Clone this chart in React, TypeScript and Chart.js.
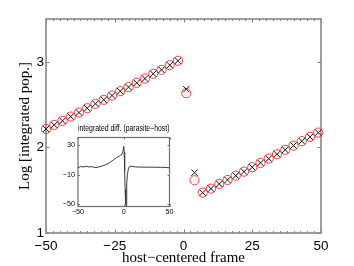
import React, { useEffect, useRef } from "react";
import { Chart, registerables } from "chart.js";

Chart.register(...registerables);

// ---- main chart data ----
const frameX = [
  -50, -47, -44, -41, -38, -35, -32, -29, -26, -23, -20, -17, -14, -11, -8, -5, -2,
  1, 4,
  7, 10, 13, 16, 19, 22, 25, 28, 31, 34, 37, 40, 43, 46, 49,
];
const circleY = [
  2.216, 2.263, 2.31, 2.36, 2.407, 2.458, 2.509, 2.556, 2.606, 2.657, 2.704, 2.754, 2.804, 2.86, 2.906, 2.961, 3.012,
  2.634, 1.616,
  1.471, 1.518, 1.573, 1.62, 1.67, 1.717, 1.768, 1.819, 1.869, 1.92, 1.971, 2.021, 2.073, 2.123, 2.173,
];
const crossY = [
  2.216, 2.263, 2.31, 2.36, 2.407, 2.458, 2.509, 2.556, 2.606, 2.657, 2.704, 2.754, 2.804, 2.86, 2.906, 2.961, 3.012,
  2.681, 1.705,
  1.471, 1.518, 1.573, 1.62, 1.67, 1.717, 1.768, 1.819, 1.869, 1.92, 1.971, 2.021, 2.073, 2.123, 2.173,
];
const mainXTicks = [-50, -25, 0, 25, 50];
const mainYTicks = [1, 2, 3];
const mainXMinorStep = 2.5;

// ---- inset data ----
const insetX = [
  -50, -47, -44, -41, -38, -35, -32, -29, -26, -23, -20, -17, -14, -11, -8, -6, -4, -2, -1, 0,
  0.5, 1, 1.5, 2, 2.5, 3, 3.5, 4, 5, 6, 7, 8, 10, 13, 16, 20, 25, 30, 35, 40, 45, 50,
];
const insetY = [
  -0.5, 0.8, 0.3, 1.2, 0.2, 0.8, -0.5, -0.3, 0.8, 1.8, 3.3, 4.8, 7.5, 10, 12.8, 14.2, 15.6, 17.5, 20.5, 28,
  20, -5, -30, -50, -52, -40, -22, -10, -3, 0.5, 1.2, 1.3, 1, 0.3, 0.2, 0.1, 0, 0, -0.1, -0.2, -0.3, -0.8,
];
const insetXTicks = [-50, 0, 50];
const insetYTicks = [30, -10, -50];
const insetTitle = "integrated diff. (parasite\u2212host)";

const fmt = (v: number | string) => String(v).replace("-", "\u2212");

function framePlugin(o: {
  color: string;
  width: number;
  xMajor: number[];
  yMajor: number[];
  xMinorStep?: number;
  majorLen: number;
  minorLen: number;
}) {
  return {
    id: "frame",
    beforeDatasetsDraw(chart: any) {
      const { ctx, chartArea: a, scales } = chart;
      const xs = scales.x;
      const ys = scales.y;
      ctx.save();
      ctx.strokeStyle = o.color;
      ctx.lineWidth = 1;
      ctx.beginPath();
      if (o.xMinorStep) {
        for (let v = xs.min; v <= xs.max + 1e-9; v += o.xMinorStep) {
          const px = Math.round(xs.getPixelForValue(v)) + 0.5;
          ctx.moveTo(px, a.bottom);
          ctx.lineTo(px, a.bottom - o.minorLen);
          ctx.moveTo(px, a.top);
          ctx.lineTo(px, a.top + o.minorLen);
        }
      }
      for (const v of o.xMajor) {
        const px = Math.round(xs.getPixelForValue(v)) + 0.5;
        ctx.moveTo(px, a.bottom);
        ctx.lineTo(px, a.bottom - o.majorLen);
        ctx.moveTo(px, a.top);
        ctx.lineTo(px, a.top + o.majorLen);
      }
      for (const v of o.yMajor) {
        const py = Math.round(ys.getPixelForValue(v)) + 0.5;
        ctx.moveTo(a.left, py);
        ctx.lineTo(a.left + o.majorLen, py);
        ctx.moveTo(a.right, py);
        ctx.lineTo(a.right - o.majorLen, py);
      }
      ctx.stroke();
      ctx.lineWidth = o.width;
      ctx.strokeRect(a.left, a.top, a.right - a.left, a.bottom - a.top);
      ctx.restore();
    },
  };
}

export default function App() {
  const mainRef = useRef<HTMLCanvasElement>(null);
  const insetRef = useRef<HTMLCanvasElement>(null);

  useEffect(() => {
    const tickFont = { family: "Liberation Sans", size: 13.5 };
    const titleFont = { family: "Liberation Serif", size: 15, lineHeight: 1 };
    const noGrid = { display: false, drawTicks: false, tickLength: 0 };

    const main = new Chart(mainRef.current as HTMLCanvasElement, {
      type: "scatter",
      data: {
        datasets: [
          {
            data: frameX.map((x, i) => ({ x, y: crossY[i] })),
            pointStyle: "crossRot",
            pointRadius: 4.5,
            borderColor: "#111",
            backgroundColor: "transparent",
            borderWidth: 1,
            showLine: false,
            clip: false,
          } as any,
          {
            data: frameX.map((x, i) => ({ x, y: circleY[i] })),
            pointStyle: "circle",
            pointRadius: 4.6,
            borderColor: "#ff3b3b",
            backgroundColor: "transparent",
            borderWidth: 1,
            showLine: false,
            clip: false,
          } as any,
        ],
      },
      options: {
        animation: false,
        responsive: false,
        devicePixelRatio: 1,
        events: [],
        layout: { padding: { top: 19, right: 33, left: 0, bottom: 0 } },
        plugins: { legend: { display: false }, tooltip: { enabled: false } },
        scales: {
          x: {
            type: "linear",
            min: -50,
            max: 50,
            grid: noGrid,
            border: { display: false },
            afterBuildTicks: (s: any) => {
              s.ticks = mainXTicks.map((v) => ({ value: v }));
            },
            afterFit: (s: any) => {
              s.height = 33;
            },
            ticks: {
              font: tickFont,
              color: "#000",
              padding: 5,
              maxRotation: 0,
              autoSkip: false,
              callback: (v: any) => fmt(v),
            },
            title: {
              display: true,
              text: "host\u2212centered frame",
              font: titleFont,
              color: "#000",
              padding: { top: 0, bottom: 0.6 },
            },
          },
          y: {
            type: "linear",
            min: 1,
            max: 3.5,
            grid: noGrid,
            border: { display: false },
            afterBuildTicks: (s: any) => {
              s.ticks = mainYTicks.map((v) => ({ value: v }));
            },
            afterFit: (s: any) => {
              s.width = 46;
            },
            ticks: {
              font: tickFont,
              color: "#000",
              padding: 2,
              autoSkip: false,
              callback: (v: any) => fmt(v),
            },
            title: {
              display: true,
              text: "Log [integrated pop.]",
              font: titleFont,
              color: "#000",
              padding: { top: 18, bottom: 0 },
            },
          },
        },
      } as any,
      plugins: [
        framePlugin({
          color: "#808080",
          width: 1.5,
          xMajor: mainXTicks,
          yMajor: mainYTicks,
          xMinorStep: mainXMinorStep,
          majorLen: 3.5,
          minorLen: 2,
        }),
      ],
    });

    const smallFont = { family: "Liberation Sans", size: 7.2 };
    const inset = new Chart(insetRef.current as HTMLCanvasElement, {
      type: "line",
      data: {
        datasets: [
          {
            data: insetX.map((x, i) => ({ x, y: insetY[i] })),
            borderColor: "#3a3a3a",
            borderWidth: 1,
            pointRadius: 0,
            tension: 0,
            fill: false,
          },
        ],
      },
      options: {
        animation: false,
        responsive: false,
        devicePixelRatio: 1,
        events: [],
        layout: { padding: { top: 0, right: 28.5, left: 0, bottom: 0 } },
        plugins: {
          legend: { display: false },
          tooltip: { enabled: false },
          title: {
            display: true,
            fullSize: false,
            text: insetTitle,
            color: "#000",
            font: { family: "Liberation Sans", size: 9, weight: "normal", lineHeight: 1.2 },
            padding: { top: 1.6, bottom: 3.1 },
          },
        },
        scales: {
          x: {
            type: "linear",
            min: -50,
            max: 50,
            grid: noGrid,
            border: { display: false },
            afterBuildTicks: (s: any) => {
              s.ticks = insetXTicks.map((v) => ({ value: v }));
            },
            afterFit: (s: any) => {
              s.height = 15.5;
            },
            ticks: {
              font: smallFont,
              color: "#000",
              padding: 1.7,
              maxRotation: 0,
              autoSkip: false,
              callback: (v: any) => fmt(v),
            },
          },
          y: {
            type: "linear",
            min: -53,
            max: 40,
            grid: noGrid,
            border: { display: false },
            afterBuildTicks: (s: any) => {
              s.ticks = insetYTicks.map((v) => ({ value: v }));
            },
            afterFit: (s: any) => {
              s.width = 28;
            },
            ticks: {
              font: smallFont,
              color: "#000",
              padding: 3,
              autoSkip: false,
              callback: (v: any) => fmt(v),
            },
          },
        },
      } as any,
      plugins: [
        framePlugin({
          color: "#707070",
          width: 1.2,
          xMajor: insetXTicks,
          yMajor: insetYTicks,
          majorLen: 2,
          minorLen: 1,
        }),
      ],
    });

    return () => {
      main.destroy();
      inset.destroy();
    };
  }, []);

  return (
    <div style={{ position: "fixed", left: 0, top: 0, width: 354, height: 266, background: "#fff" }}>
      <canvas ref={mainRef} width={354} height={266} style={{ position: "absolute", left: 0, top: 0 }} />
      <canvas ref={insetRef} width={148} height={100} style={{ position: "absolute", left: 50, top: 122 }} />
    </div>
  );
}
